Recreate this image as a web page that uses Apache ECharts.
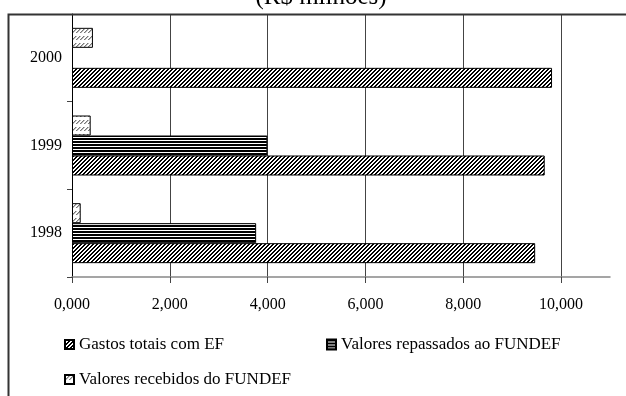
<!DOCTYPE html>
<html>
<head>
<meta charset="utf-8">
<script src="https://cdn.jsdelivr.net/npm/echarts@6/dist/echarts.min.js"></script>
<style>
html,body{margin:0;padding:0;background:#fff;}
#chart{width:626px;height:396px;}
</style>
</head>
<body>
<div id="chart"></div>
<script>
// ---- data ----
const years = ['1998', '1999', '2000'];
const gastosTotais = [9470, 9665, 9815];
const valoresRepassados = [3765, 3995, null];
const valoresRecebidos = [178, 382, 428];
const seriesNames = ['Gastos totais com EF', 'Valores repassados ao FUNDEF', 'Valores recebidos do FUNDEF'];
const xTicks = [0, 2000, 4000, 6000, 8000, 10000];
const titleText = '(R$ milhões)';

// ---- patterns ----
function makePattern(w, h, draw) {
  const c = document.createElement('canvas');
  c.width = w; c.height = h;
  const ctx = c.getContext('2d');
  ctx.fillStyle = '#fff';
  ctx.fillRect(0, 0, w, h);
  draw(ctx);
  return { image: c, repeat: 'repeat' };
}
const patDiag = makePattern(4, 4, ctx => {
  for (let x = 0; x < 4; x++) for (let y = 0; y < 4; y++) {
    const k = (x + y) % 4;
    if (k === 0 || k === 1) { ctx.fillStyle = '#000'; ctx.fillRect(x, y, 1, 1); }
  }
});
const patHoriz = makePattern(1, 3, ctx => {
  ctx.fillStyle = '#000';
  ctx.fillRect(0, 0, 1, 2);
});
const patLight = makePattern(4, 7, ctx => {
  for (let x = 0; x < 4; x++) for (let y = 1; y < 5; y++) {
    const k = (x + y) % 4;
    if (k === 0) { ctx.fillStyle = '#777'; ctx.fillRect(x, y, 1, 1); }
    else if (k === 1) { ctx.fillStyle = '#bbb'; ctx.fillRect(x, y, 1, 1); }
  }
});

const FONT = 'Liberation Serif';
const chart = echarts.init(document.getElementById('chart'), null, { renderer: 'canvas' });

function barSeries(name, data, pattern) {
  return {
    name: name,
    type: 'bar',
    data: data,
    barWidth: 20,
    barGap: '0%',
    itemStyle: { color: pattern, borderColor: '#000', borderWidth: 1 },
    emphasis: { disabled: true },
    animation: false
  };
}

const legendText = { fontFamily: FONT, fontSize: 17, color: '#000', lineHeight: 17 };

chart.setOption({
  animation: false,
  backgroundColor: '#fff',
  textStyle: { fontFamily: FONT },
  grid: { left: 72, right: 16, top: 14, bottom: 119, containLabel: false },
  xAxis: {
    type: 'value',
    min: 0,
    max: 11000,
    interval: 2000,
    axisLine: { show: true, lineStyle: { color: '#888', width: 1.5 } },
    axisTick: { show: true, length: 6, lineStyle: { color: '#444' }, customValues: xTicks },
    axisLabel: {
      customValues: xTicks,
      margin: 20,
      fontFamily: FONT,
      fontSize: 16,
      color: '#000',
      formatter: v => (v / 1000).toFixed(3).replace('.', ',')
    },
    splitLine: { show: true, lineStyle: { color: ['#444', '#444', '#444', '#444', '#444', '#444', 'rgba(0,0,0,0)'], width: 1 } }
  },
  yAxis: {
    type: 'category',
    data: years,
    axisLine: { show: true, lineStyle: { color: '#000', width: 1 } },
    axisTick: { show: true, length: 5, lineStyle: { color: '#444' } },
    axisLabel: { margin: 10, fontFamily: FONT, fontSize: 16, color: '#000' }
  },
  legend: [
    { data: [seriesNames[0]], left: 64, top: 336, padding: 0, itemWidth: 9, itemHeight: 9, textStyle: legendText, selectedMode: false, icon: 'rect' },
    { data: [seriesNames[1]], left: 326, top: 336, padding: 0, itemWidth: 9, itemHeight: 10, textStyle: legendText, selectedMode: false, icon: 'rect' },
    { data: [seriesNames[2]], left: 64, top: 371, padding: 0, itemWidth: 9, itemHeight: 9, textStyle: legendText, selectedMode: false, icon: 'rect' }
  ],
  graphic: [
    { type: 'rect', silent: true, z: 100, shape: { x: 8.5, y: 14.5, width: 700, height: 500 }, style: { fill: 'none', stroke: '#333', lineWidth: 2 } },
    { type: 'text', silent: true, z: 100, style: { text: titleText, x: 321, y: 10, textAlign: 'center', textVerticalAlign: 'bottom', font: '25px "Liberation Serif"', fill: '#000' } }
  ],
  series: [
    barSeries(seriesNames[2], valoresRecebidos, patLight),
    barSeries(seriesNames[1], valoresRepassados, patHoriz),
    barSeries(seriesNames[0], gastosTotais, patDiag)
  ]
});
</script>
</body>
</html>
